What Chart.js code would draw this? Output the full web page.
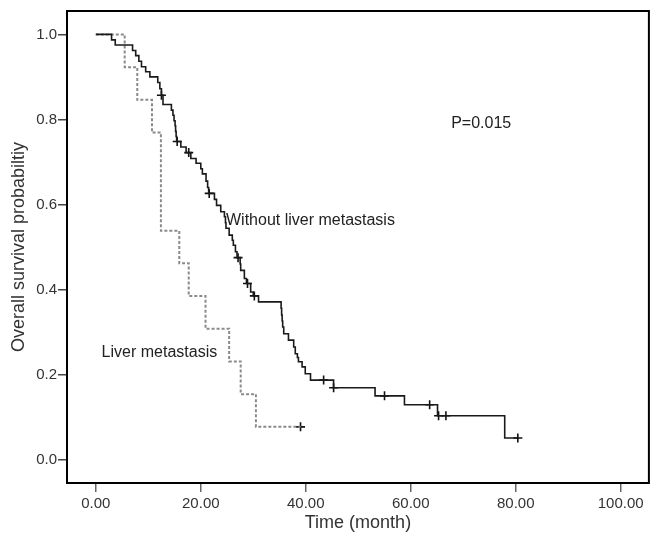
<!DOCTYPE html>
<html>
<head>
<meta charset="utf-8">
<script src="https://cdn.jsdelivr.net/npm/chart.js@4.4.0/dist/chart.umd.min.js"></script>
<style>
    html, body { margin: 0; padding: 0; background: #fff; }
</style>
</head>
<body>
<canvas id="km" width="655" height="538"></canvas>
<script>
// --- Data ---
const xTicks = [0, 20, 40, 60, 80, 100];
const yTicks = [0, 0.2, 0.4, 0.6, 0.8, 1.0];

// Without liver metastasis: time of each drop and survival after it
const solidTimes = [0, 3.0, 3.7, 7.0, 7.6, 8.2, 8.7, 9.5, 10.3, 11.8,
    12.2, 12.5, 12.8, 14.4, 14.7, 14.9, 15.1, 15.2, 15.3, 15.4,
    16.2, 17.2, 18.1, 19.1, 20.0, 20.3, 21.0, 21.3, 21.5, 22.6,
    23.0, 23.8, 24.5, 24.7, 24.8, 25.4, 26.0, 26.2, 26.6, 26.9,
    27.5, 27.6, 28.3, 28.7, 29.5, 30.0, 31.0, 35.3, 35.4, 35.5,
    35.6, 35.8, 36.7, 37.7, 38.0, 38.4, 38.6, 39.3, 39.9, 40.9,
    45.3, 53.2, 58.8, 65.1, 77.9, 80.4];
const solidSurv = [1.0, 0.987, 0.975, 0.962, 0.950, 0.937, 0.924, 0.912, 0.900, 0.887,
    0.872, 0.857, 0.835, 0.822, 0.810, 0.797, 0.785, 0.772, 0.760, 0.748,
    0.735, 0.722, 0.708, 0.697, 0.684, 0.672, 0.655, 0.640, 0.626, 0.612,
    0.598, 0.583, 0.571, 0.557, 0.544, 0.528, 0.516, 0.504, 0.489, 0.475,
    0.460, 0.445, 0.426, 0.414, 0.394, 0.385, 0.371, 0.356, 0.340, 0.326,
    0.312, 0.296, 0.281, 0.265, 0.249, 0.240, 0.230, 0.218, 0.202, 0.187,
    0.169, 0.150, 0.129, 0.103, 0.051, 0.051];
const solidCensorTimes = [12.5, 15.5, 17.7, 21.6, 27.1, 28.9, 30.2, 43.4, 45.3, 55.0, 63.6, 65.3, 66.7, 80.4];
const solidCensorSurv = [0.857, 0.748, 0.722, 0.626, 0.475, 0.414, 0.385, 0.187, 0.169, 0.150, 0.129, 0.103, 0.103, 0.051];

// Liver metastasis
const liverTimes = [0, 5.5, 7.9, 10.7, 12.4, 15.9, 17.7, 20.9, 25.4, 27.6, 30.5, 39.0];
const liverSurv = [1.0, 0.923, 0.846, 0.769, 0.538, 0.462, 0.385, 0.308, 0.231, 0.154, 0.077, 0.077];
const liverCensorTimes = [39.0];
const liverCensorSurv = [0.077];

const noteTexts = ['P=0.015', 'Without liver metastasis', 'Liver metastasis'];
const noteAnchors = [[67.7, 0.791], [24.8, 0.561], [1.1, 0.251]];

const FONT = '"Liberation Sans", Arial, Helvetica, sans-serif';

const toPoints = (xs, ys) => xs.map((x, i) => ({ x, y: ys[i] }));

// --- Frame + text labels ---
const framePlugin = {
    id: 'frame',
    afterDraw(chart) {
        const { ctx, chartArea: a, scales } = chart;
        ctx.save();
        ctx.strokeStyle = '#000';
        ctx.lineWidth = 2;
        ctx.strokeRect(a.left, a.top, a.right - a.left, a.bottom - a.top);

        ctx.fillStyle = '#222';
        ctx.font = '16px ' + FONT;
        ctx.textBaseline = 'middle';
        noteTexts.forEach((t, i) => {
            const [nx, ny] = noteAnchors[i];
            ctx.fillText(t, scales.x.getPixelForValue(nx), scales.y.getPixelForValue(ny));
        });
        ctx.restore();
    },
};

new Chart(document.getElementById('km'), {
    type: 'line',
    data: {
        datasets: [
            {
                label: 'Without liver metastasis',
                data: toPoints(solidTimes, solidSurv),
                borderColor: '#1a1a1a',
                borderWidth: 1.6,
                stepped: true,
                pointRadius: 0,
                fill: false,
            },
            {
                label: 'Without censored',
                data: toPoints(solidCensorTimes, solidCensorSurv),
                showLine: false,
                pointStyle: 'cross',
                pointRadius: 4.5,
                borderColor: '#111',
                borderWidth: 1.6,
            },
            {
                label: 'Liver metastasis',
                data: toPoints(liverTimes, liverSurv),
                borderColor: '#8a8a8a',
                borderWidth: 2,
                borderDash: [3, 2],
                stepped: true,
                pointRadius: 0,
                fill: false,
            },
            {
                label: 'Liver censored',
                data: toPoints(liverCensorTimes, liverCensorSurv),
                showLine: false,
                pointStyle: 'cross',
                pointRadius: 4.5,
                borderColor: '#111',
                borderWidth: 1.6,
            },
        ],
    },
    options: {
        responsive: false,
        devicePixelRatio: 1,
        animation: false,
        layout: { padding: { top: 11, right: 2, left: 0, bottom: 0 } },
        plugins: {
            legend: { display: false },
            tooltip: { enabled: false },
        },
        scales: {
            x: {
                type: 'linear',
                min: -5.49,
                max: 105.37,
                afterBuildTicks: s => { s.ticks = xTicks.map(v => ({ value: v })); },
                afterFit: s => { s.height = 55; },
                grid: { drawOnChartArea: false, drawTicks: true, tickLength: 9, color: '#666', lineWidth: 1.5 },
                border: { display: false },
                ticks: {
                    color: '#333',
                    font: { family: FONT, size: 15 },
                    padding: 3,
                    maxRotation: 0,
                    callback: v => Number(v).toFixed(2),
                },
                title: {
                    display: true,
                    text: 'Time (month)',
                    color: '#333',
                    font: { family: FONT, size: 18 },
                    padding: { top: 0, bottom: 4 },
                },
            },
            y: {
                type: 'linear',
                min: -0.055,
                max: 1.055,
                afterBuildTicks: s => { s.ticks = yTicks.map(v => ({ value: v })); },
                afterFit: s => { s.width = 67; },
                grid: { drawOnChartArea: false, drawTicks: true, tickLength: 9, color: '#444', lineWidth: 1.5 },
                border: { display: false },
                ticks: {
                    color: '#333',
                    font: { family: FONT, size: 15 },
                    padding: 1,
                    callback: v => Number(v).toFixed(1),
                },
                title: {
                    display: true,
                    text: 'Overall survival probabiltiy',
                    color: '#333',
                    font: { family: FONT, size: 18 },
                    padding: { top: 8, bottom: 0 },
                },
            },
        },
    },
    plugins: [framePlugin],
});
</script>
</body>
</html>
